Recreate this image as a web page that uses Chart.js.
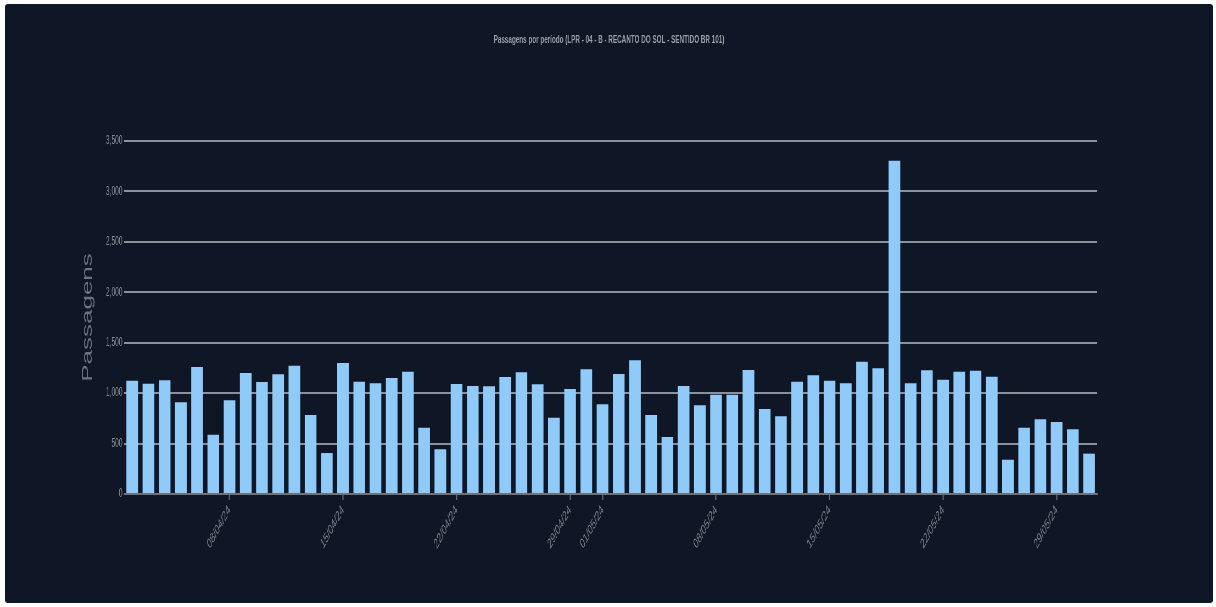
<!DOCTYPE html>
<html>
<head>
<meta charset="utf-8">
<script src="https://cdn.jsdelivr.net/npm/chart.js@4/dist/chart.umd.min.js"></script>
<style>
  html, body { margin: 0; padding: 0; background: #ffffff; }
  .card {
    position: absolute; left: 5px; top: 4px; width: 1208px; height: 599px;
    background: #0f1726; border-radius: 3px; overflow: hidden;
  }
  /* the source chart is squeezed horizontally, so draw wide and scale down */
  .stretch {
    width: 2200px; height: 599px;
    transform: scaleX(0.54909); transform-origin: 0 0;
  }
</style>
</head>
<body>
<div class="card">
  <div class="stretch"><canvas id="passagensChart"></canvas></div>
</div>
<script>
const datas = [
  '02/04/24', '03/04/24', '04/04/24', '05/04/24', '06/04/24', '07/04/24', '08/04/24', '09/04/24', '10/04/24', '11/04/24',
  '12/04/24', '13/04/24', '14/04/24', '15/04/24', '16/04/24', '17/04/24', '18/04/24', '19/04/24', '20/04/24', '21/04/24',
  '22/04/24', '23/04/24', '24/04/24', '25/04/24', '26/04/24', '27/04/24', '28/04/24', '29/04/24', '30/04/24', '01/05/24',
  '02/05/24', '03/05/24', '04/05/24', '05/05/24', '06/05/24', '07/05/24', '08/05/24', '09/05/24', '10/05/24', '11/05/24',
  '12/05/24', '13/05/24', '14/05/24', '15/05/24', '16/05/24', '17/05/24', '18/05/24', '19/05/24', '20/05/24', '21/05/24',
  '22/05/24', '23/05/24', '24/05/24', '25/05/24', '26/05/24', '27/05/24', '28/05/24', '29/05/24', '30/05/24', '31/05/24'
];

const passagens = [
  1123, 1094, 1127, 909, 1259, 588, 929, 1200, 1110, 1187,
  1272, 783, 406, 1299, 1114, 1097, 1150, 1213, 658, 443,
  1091, 1071, 1068, 1160, 1206, 1087, 757, 1041, 1236, 889,
  1190, 1325, 783, 565, 1071, 879, 985, 985, 1229, 843,
  770, 1114, 1177, 1124, 1097, 1312, 1246, 3305, 1097, 1226,
  1133, 1213, 1223, 1163, 340, 658, 741, 714, 641, 400
];

const rotulosEixo = ['08/04/24', '15/04/24', '22/04/24', '29/04/24', '01/05/24', '08/05/24', '15/05/24', '22/05/24', '29/05/24'];

const fonte = 'Arial, "Liberation Sans", sans-serif';

const ctx = document.getElementById('passagensChart').getContext('2d');
new Chart(ctx, {
  type: 'bar',
  data: {
    labels: datas,
    datasets: [{
      label: 'Passagens',
      data: passagens,
      backgroundColor: '#90caf9',
      borderWidth: 0
    }]
  },
  options: {
    responsive: true,
    maintainAspectRatio: false,
    animation: false,
    devicePixelRatio: 1,
    layout: { padding: 0 },
    plugins: {
      legend: { display: false },
      tooltip: { enabled: false },
      title: {
        display: true,
        text: 'Passagens por período (LPR - 04 - B - RECANTO DO SOL - SENTIDO BR 101)',
        color: '#9a9fa6',
        font: { family: fonte, size: 11.5, weight: 'bold' },
        padding: { top: 29.1, bottom: 94.1 }
      }
    },
    scales: {
      x: {
        grid: { display: true, drawOnChartArea: false, drawTicks: true, offset: false, tickLength: 6, tickWidth: 2, tickColor: '#6b7280' },
        border: { display: true, color: '#6b7280', width: 2 },
        ticks: {
          autoSkip: false,
          maxRotation: 45,
          minRotation: 45,
          color: '#7c818a',
          padding: 2,
          font: { family: fonte, size: 14 }
        },
        afterBuildTicks: (scale) => {
          scale.ticks = scale.ticks.filter(t => rotulosEixo.includes(datas[t.value]));
        },
        afterFit: (scale) => { scale.height = 109; }
      },
      y: {
        min: 0,
        max: 3500,
        ticks: {
          stepSize: 500,
          color: '#858a93',
          padding: 3,
          font: { family: fonte, size: 12 }
        },
        grid: { color: '#8a919c', lineWidth: 2, drawTicks: false },
        border: { display: false },
        title: {
          display: true,
          text: 'Passagens',
          color: '#6b7280',
          padding: { top: 135.6, bottom: 0 },
          font: { family: fonte, size: 26 }
        },
        afterFit: (scale) => { scale.width = 216.9; }
      },
      // empty axis on the right, only to keep the gap of the original layout
      margemDireita: {
        position: 'right',
        display: true,
        grid: { display: false },
        border: { display: false },
        ticks: { display: false },
        afterFit: (scale) => { scale.width = 211; }
      }
    }
  }
});
</script>
</body>
</html>
